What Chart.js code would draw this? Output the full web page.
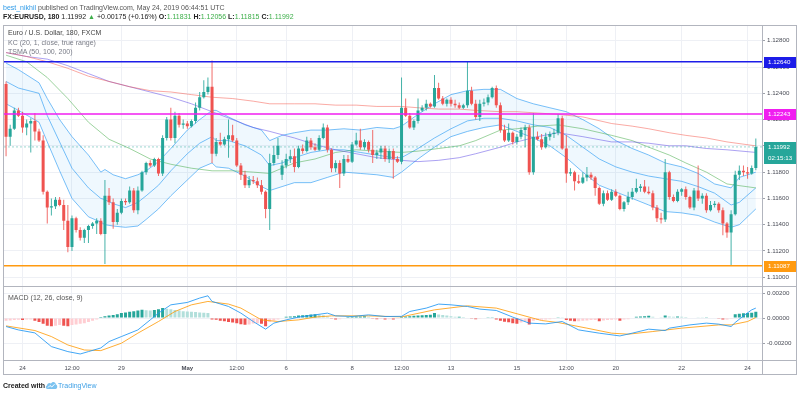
<!DOCTYPE html>
<html><head><meta charset="utf-8"><title>EURUSD 180</title>
<script src="https://cdn.jsdelivr.net/npm/chart.js@4.4.1/dist/chart.umd.min.js"></script>
<style>
html,body{margin:0;padding:0;background:#fff}
#wrap{position:relative;width:800px;height:396px;overflow:hidden;font-family:"Liberation Sans",Arial,Helvetica,sans-serif}
#c{position:absolute;left:0;top:0}
.t{position:absolute;white-space:nowrap;line-height:8px;font-size:7px}
.g{color:#3cae49}
</style></head><body><div id="wrap">
<canvas id="c" width="800" height="396"></canvas>
<div class="t" style="left:3px;top:4px;color:#555"><span style="color:#2f9be8">best_nikhil</span> published on TradingView.com, May 24, 2019 06:44:51 UTC</div>
<div class="t" style="left:3px;top:13px;color:#222"><b>FX:EURUSD, 180</b> 1.11992 <span class="g">▲</span> +0.00175 (+0.16%) <b>O:</b><span class="g">1.11831</span> <b>H:</b><span class="g">1.12056</span> <b>L:</b><span class="g">1.11815</span> <b>C:</b><span class="g">1.11992</span></div>
<div class="t" style="left:8px;top:29px;color:#444">Euro / U.S. Dollar, 180, FXCM</div>
<div class="t" style="left:8px;top:39px;color:#787b86">KC (20, 1, close, true range)</div>
<div class="t" style="left:8px;top:48px;color:#787b86">TSMA (50, 100, 200)</div>
<div class="t" style="left:8px;top:294px;color:#555">MACD (12, 26, close, 9)</div>
<div class="t" style="left:3px;top:382px;color:#222;font-weight:bold">Created with</div>
<svg style="position:absolute;left:45px;top:380px" width="13" height="10" viewBox="0 0 13 10"><path d="M2.5 9 C0.5 9 0.2 6.2 2 5.6 C2 3 4.8 2.2 6 3.6 C7 1 11 1.5 10.8 4.6 C12.8 5 12.8 9 10.6 9 Z" fill="#7cc3f0"/><path d="M3 7.5 L5 5.5 L6.8 7 L9.5 4.2" stroke="#fff" stroke-width="1" fill="none"/></svg>
<div class="t" style="left:58px;top:382px;color:#3ea0e6">TradingView</div>
</div>
<script>
// ---------- data ----------
const openP = [
1.1247,1.1207,1.1213,1.1227,1.1223,1.1214,1.1217,1.1219,1.1211,1.1204,
1.1165,1.1153,1.1154,1.1159,1.1155,1.1143,1.1123,1.1145,1.1136,1.1130,
1.1136,1.1139,1.1141,1.1143,1.1133,1.1162,1.1157,1.1142,1.1149,1.1158,
1.1157,1.1166,1.1151,1.1166,1.1180,1.1187,1.1185,1.1190,1.1179,1.1206,
1.1220,1.1206,1.1223,1.1216,1.1217,1.1215,1.1219,1.1229,1.1237,1.1241,
1.1245,1.1194,1.1203,1.1201,1.1205,1.1208,1.1204,1.1185,1.1178,1.1170,
1.1174,1.1173,1.1170,1.1165,1.1152,1.1187,1.1193,1.1178,1.1185,1.1190,
1.1192,1.1184,1.1198,1.1196,1.1204,1.1199,1.1197,1.1206,1.1214,1.1197,
1.1183,1.1187,1.1179,1.1190,1.1188,1.1201,1.1204,1.1199,1.1203,1.1197,
1.1193,1.1195,1.1198,1.1190,1.1196,1.1190,1.1188,1.1229,1.1223,1.1214,
1.1219,1.1227,1.1229,1.1232,1.1230,1.1244,1.1236,1.1232,1.1235,1.1232,
1.1231,1.1229,1.1231,1.1242,1.1232,1.1222,1.1232,1.1233,1.1237,1.1244,
1.1231,1.1212,1.1204,1.1210,1.1203,1.1207,1.1212,1.1214,1.1180,1.1207,
1.1205,1.1199,1.1207,1.1209,1.1210,1.1221,1.1198,1.1179,1.1180,1.1173,
1.1172,1.1176,1.1178,1.1176,1.1168,1.1156,1.1164,1.1159,1.1165,1.1162,
1.1152,1.1157,1.1161,1.1165,1.1168,1.1169,1.1165,1.1164,1.1153,1.1145,
1.1144,1.1180,1.1161,1.1158,1.1165,1.1167,1.1161,1.1153,1.1166,1.1160,
1.1162,1.1151,1.1155,1.1156,1.1151,1.1141,1.1134,1.1148,1.1178,1.1181,
1.1180,1.1179,1.11831];
const highP = [
1.1249,1.1216,1.1229,1.1229,1.1226,1.1220,1.1221,1.1225,1.1213,1.1208,
1.1166,1.1160,1.1161,1.1161,1.1159,1.1155,1.1147,1.1146,1.1138,1.1137,
1.1140,1.1142,1.1145,1.1145,1.1174,1.1168,1.1160,1.1152,1.1160,1.1160,
1.1169,1.1168,1.1169,1.1181,1.1188,1.1189,1.1191,1.1191,1.1208,1.1222,
1.1229,1.1226,1.1225,1.1220,1.1219,1.1220,1.1233,1.1241,1.1250,1.1252,
1.1265,1.1206,1.1210,1.1207,1.1220,1.1216,1.1206,1.1187,1.1181,1.1177,
1.1177,1.1176,1.1174,1.1166,1.1194,1.1200,1.1206,1.1189,1.1194,1.1197,
1.1198,1.1200,1.1201,1.1207,1.1206,1.1202,1.1208,1.1217,1.1216,1.1198,
1.1189,1.1189,1.1193,1.1193,1.1203,1.1210,1.1213,1.1205,1.1204,1.1212,
1.1197,1.1200,1.1200,1.1198,1.1198,1.1192,1.1252,1.1236,1.1225,1.1220,
1.1236,1.1231,1.1235,1.1233,1.1254,1.1248,1.1238,1.1236,1.1237,1.1235,
1.1233,1.1232,1.1264,1.1245,1.1235,1.1235,1.1236,1.1239,1.1245,1.1246,
1.1233,1.1216,1.1217,1.1211,1.1209,1.1214,1.1216,1.1216,1.1225,1.1211,
1.1209,1.1210,1.1211,1.1213,1.1224,1.1223,1.1208,1.1183,1.1181,1.1178,
1.1180,1.1184,1.1180,1.1177,1.1169,1.1166,1.1166,1.1167,1.1167,1.1163,
1.1158,1.1165,1.1168,1.1175,1.1171,1.1174,1.1169,1.1166,1.1155,1.1149,
1.1190,1.1181,1.1163,1.1167,1.1168,1.1169,1.1162,1.1168,1.1185,1.1164,
1.1164,1.1158,1.1158,1.1157,1.1153,1.1142,1.1151,1.1181,1.1185,1.1185,
1.1184,1.1185,1.12056];
const lowP = [
1.1192,1.1200,1.1212,1.1222,1.1210,1.1208,1.1195,1.1204,1.1203,1.1163,
1.1141,1.1147,1.1152,1.1154,1.1136,1.1119,1.1120,1.1134,1.1128,1.1126,
1.1126,1.1137,1.1133,1.1132,1.1110,1.1155,1.1137,1.1140,1.1148,1.1155,
1.1156,1.1149,1.1148,1.1165,1.1178,1.1184,1.1184,1.1177,1.1177,1.1204,
1.1204,1.1202,1.1214,1.1213,1.1213,1.1214,1.1217,1.1227,1.1236,1.1239,
1.1187,1.1192,1.1200,1.1200,1.1191,1.1203,1.1184,1.1174,1.1168,1.1168,
1.1171,1.1168,1.1163,1.1145,1.1136,1.1185,1.1190,1.1174,1.1183,1.1187,
1.1180,1.1183,1.1194,1.1195,1.1197,1.1196,1.1196,1.1205,1.1195,1.1180,
1.1180,1.1168,1.1177,1.1187,1.1187,1.1200,1.1197,1.1197,1.1195,1.1187,
1.1190,1.1190,1.1188,1.1187,1.1175,1.1187,1.1186,1.1222,1.1213,1.1212,
1.1217,1.1226,1.1227,1.1229,1.1229,1.1235,1.1231,1.1230,1.1230,1.1229,
1.1228,1.1228,1.1229,1.1231,1.1220,1.1219,1.1230,1.1231,1.1236,1.1229,
1.1210,1.1203,1.1203,1.1201,1.1201,1.1205,1.1199,1.1178,1.1178,1.1204,
1.1197,1.1198,1.1204,1.1206,1.1208,1.1197,1.1172,1.1177,1.1166,1.1171,
1.1171,1.1173,1.1174,1.1162,1.1155,1.1154,1.1158,1.1158,1.1161,1.1151,
1.1150,1.1155,1.1159,1.1164,1.1165,1.1164,1.1163,1.1151,1.1142,1.1141,
1.1142,1.1159,1.1157,1.1157,1.1162,1.1159,1.1152,1.1151,1.1158,1.1156,
1.1149,1.1150,1.1153,1.1149,1.1132,1.1130,1.11087,1.1147,1.1174,1.1177,
1.1175,1.1178,1.11815];
const closeP = [
1.1207,1.1213,1.1227,1.1223,1.1214,1.1217,1.1219,1.1211,1.1204,1.1165,
1.1153,1.1154,1.1159,1.1155,1.1143,1.1123,1.1145,1.1136,1.1130,1.1136,
1.1139,1.1141,1.1143,1.1133,1.1162,1.1157,1.1142,1.1149,1.1158,1.1157,
1.1166,1.1151,1.1166,1.1180,1.1187,1.1185,1.1190,1.1179,1.1206,1.1220,
1.1206,1.1223,1.1216,1.1217,1.1215,1.1219,1.1229,1.1237,1.1241,1.1245,
1.1194,1.1203,1.1201,1.1205,1.1208,1.1204,1.1185,1.1178,1.1170,1.1174,
1.1173,1.1170,1.1165,1.1152,1.1187,1.1193,1.1200,1.1185,1.1190,1.1192,
1.1184,1.1198,1.1196,1.1204,1.1199,1.1197,1.1206,1.1214,1.1197,1.1183,
1.1187,1.1179,1.1190,1.1188,1.1201,1.1204,1.1199,1.1203,1.1197,1.1193,
1.1195,1.1198,1.1190,1.1196,1.1190,1.1188,1.1229,1.1223,1.1214,1.1219,
1.1227,1.1229,1.1232,1.1230,1.1244,1.1236,1.1232,1.1235,1.1232,1.1231,
1.1229,1.1231,1.1242,1.1232,1.1222,1.1232,1.1233,1.1237,1.1244,1.1231,
1.1212,1.1204,1.1210,1.1203,1.1207,1.1212,1.1214,1.1180,1.1207,1.1205,
1.1199,1.1207,1.1209,1.1210,1.1221,1.1198,1.1179,1.1180,1.1173,1.1172,
1.1176,1.1178,1.1176,1.1168,1.1156,1.1164,1.1159,1.1165,1.1162,1.1152,
1.1157,1.1161,1.1165,1.1168,1.1169,1.1165,1.1164,1.1153,1.1145,1.1144,
1.1180,1.1161,1.1158,1.1165,1.1167,1.1161,1.1153,1.1166,1.1160,1.1162,
1.1151,1.1155,1.1156,1.1151,1.1141,1.1134,1.1148,1.1178,1.1181,1.1180,
1.1179,1.11831,1.11992];

// Keltner channel (at these bar indices)
const kcIdx = [0,3,8,10,13,16,20,23,24,26,29,32,34,37,40,44,47,50,51,54,58,62,64,67,70,74,78,82,86,90,94,96,100,104,108,112,116,120,124,128,132,136,140,144,148,152,156,160,164,168,172,176,178,182];
const kcUpper = [1.1263,1.1258,1.1248,1.1236,1.1220,1.1207,1.1193,1.1180,1.1182,1.1178,
1.1175,1.1178,1.1181,1.1188,1.1198,1.1212,1.1220,1.1227,1.1227,1.1222,
1.1216,1.1212,1.1204,1.1208,1.1210,1.1212,1.1212,1.1213,1.1212,1.1214,
1.1213,1.1215,1.1224,1.1232,1.1239,1.1242,1.1243,1.1243,1.1236,1.1232,
1.1229,1.1226,1.1220,1.1213,1.1204,1.1198,1.1193,1.1187,1.1184,1.1179,
1.1171,1.1168,1.1176,1.1180];
const kcMid = [1.1249,1.1244,1.1240,1.1223,1.1203,1.1183,1.1168,1.1160,1.1159,1.1156,
1.1153,1.1157,1.1162,1.1170,1.1181,1.1194,1.1202,1.1207,1.1204,1.1204,
1.1200,1.1193,1.1185,1.1187,1.1191,1.1195,1.1197,1.1197,1.1195,1.1193,
1.1191,1.1191,1.1198,1.1206,1.1213,1.1219,1.1221,1.1221,1.1219,1.1216,
1.1214,1.1208,1.1199,1.1190,1.1184,1.1180,1.1177,1.1175,1.1173,1.1169,
1.1164,1.1155,1.1157,1.1168];
const kcLower = [1.1232,1.1227,1.1218,1.1203,1.1181,1.1160,1.1146,1.1142,1.1140,1.1139,
1.1138,1.1139,1.1144,1.1152,1.1162,1.1174,1.1183,1.1187,1.1184,1.1183,
1.1177,1.1169,1.1166,1.1169,1.1172,1.1172,1.1176,1.1180,1.1179,1.1178,
1.1176,1.1180,1.1190,1.1199,1.1207,1.1211,1.1214,1.1216,1.1211,1.1206,
1.1200,1.1191,1.1180,1.1170,1.1165,1.1160,1.1155,1.1150,1.1149,1.1147,
1.1142,1.1138,1.1140,1.1152];

// Moving averages (read at these bar indices)
const smaIdx = [0,5,10,15,20,25,30,35,40,45,50,55,60,64,70,75,80,85,90,96,100,105,110,114,120,124,129,134,140,147,152,156,161,165,170,175,182];
const sma200 = [1.1271,1.1268,1.1264,1.1259,1.1253,1.1249,1.1245,1.1242,1.1241,1.1239,1.1237,1.1236,1.1234,
1.1232,1.1232,1.1232,1.1231,1.1231,1.1230,1.1230,1.1229,1.1228,1.1228,1.1227,1.1226,1.1226,1.1225,1.1224,1.1222,1.1217,
1.1215,1.1213,1.1210,1.1208,1.1206,1.1203,1.1200];
const sma100 = [1.1271,1.1268,1.1266,1.1261,1.1255,1.1249,1.1245,1.1241,1.1237,1.1232,1.1226,1.1220,1.1214,
1.1211,1.1206,1.1201,1.1197,1.1194,1.1191,1.1189,1.1188,1.1189,1.1191,1.1194,1.1199,1.1203,1.1207,1.1210,1.1207,1.1203,
1.1203,1.1202,1.1200,1.1200,1.1198,1.1197,1.1195];
const sma50 = [1.1269,1.1264,1.1252,1.1236,1.1218,1.1205,1.1198,1.1190,1.1186,1.1183,1.1181,1.1181,1.1180,
1.1179,1.1187,1.1190,1.1195,1.1197,1.1196,1.1195,1.1196,1.1198,1.1200,1.1204,1.1212,1.1213,1.1215,1.1216,1.1213,1.1208,
1.1204,1.1199,1.1193,1.1187,1.1180,1.1171,1.1168];

// MACD
const macdIdx = [0,3,7,11,15,18,20,23,25,28,32,35,37,40,44,47,49,50,54,57,60,63,65,68,71,75,78,80,84,88,92,96,98,102,105,108,112,115,119,123,127,131,135,139,144,149,152,156,160,161,166,170,173,176,177,179,181,182];
const macdVal = [-0.00067,-0.00094,-0.00118,-0.00227,-0.00267,-0.00286,-0.00267,-0.00238,-0.00187,-0.00147,
-0.00094,-0.00014,0.0004,0.00106,0.00125,0.0016,0.00178,0.00133,0.00093,0.0004,
-0.00027,-0.00088,-0.0004,-0.00014,0.00008,0.00026,0.0004,0.00018,0.00013,0.00026,
0.00013,0.00014,0.00053,0.0008,0.00112,0.00106,0.00093,0.00072,0.00061,0.00008,
-0.0004,-0.00046,-0.00027,-0.00094,-0.0012,-0.00142,-0.0012,-0.00088,-0.00099,-0.0008,
-0.00054,-0.0004,-0.00048,-0.00067,-0.00035,0.00018,0.00066,0.0008];
const sigIdx = [0,7,11,15,19,23,28,32,37,41,45,49,54,57,62,66,71,75,79,88,96,104,112,119,125,130,134,141,147,151,157,164,173,176,180,182];
const sigVal = [-0.00062,-0.00099,-0.00147,-0.00214,-0.00254,-0.00259,-0.002,-0.0012,-0.00027,0.00053,
0.00106,0.00133,0.00112,0.0008,-0.00014,-0.00027,-0.00014,0.00008,0.00018,0.00018,
0.0001,0.00066,0.00098,0.0008,0.00026,-0.00019,-0.00035,-0.0008,-0.0012,-0.00128,
-0.00107,-0.0008,-0.00054,-0.00054,-0.00027,0.00005];
const hist = [
-0.0002,-0.00018,-0.00015,-0.00012,-0.00015,-0.0001,-0.0001,-0.0002,-0.0003,-0.00045,
-0.0006,-0.00065,-0.0006,-0.00055,-0.0006,-0.00065,-0.00055,-0.0005,-0.00045,-0.0004,
-0.0003,-0.0002,-0.0001,0.00008,0.00015,0.0002,0.00025,0.0003,0.0004,0.00045,
0.0005,0.00055,0.0006,0.00067,0.00062,0.0006,0.00065,0.0007,0.0008,0.00075,
0.0007,0.00065,0.0006,0.00055,0.00053,0.0005,0.00048,0.00045,0.00042,0.0004,
-0.0001,-0.00013,-0.0002,-0.00025,-0.0003,-0.00035,-0.0004,-0.00048,-0.00053,-0.0005,
-0.00042,-0.0004,-0.00045,-0.00065,-0.0003,-0.00018,-0.0001,0.00005,0.0001,0.00012,
0.00015,0.0002,0.00022,0.00025,0.00028,0.0003,0.00027,0.00022,0.00012,-0.00005,
-0.0001,-0.00008,0.00005,0.00008,0.0001,0.00013,0.00013,0.00015,0.0001,-0.00005,
-0.00008,-0.00007,-0.0001,-0.00008,-0.0001,-0.00005,0.0001,0.00013,0.00015,0.00018,
0.0002,0.00022,0.00025,0.00027,0.0004,0.00028,0.00025,0.0002,0.00015,0.0001,
0.0001,0.00008,0.00005,-0.00005,-0.00008,-0.00005,-0.00002,0.00002,0.00003,-0.0001,
-0.0002,-0.00028,-0.00033,-0.0004,-0.00045,-0.00035,-0.00025,-0.0005,-0.0002,-0.00015,
-0.00013,-0.0001,-0.00008,-0.00005,0.00003,0.00002,-0.00015,-0.0002,-0.00025,-0.00025,
-0.0002,-0.00018,-0.00015,-0.00015,-0.00025,-0.00018,-0.00015,-0.00012,-0.0001,-0.0002,
-0.0001,-0.00008,0.00005,0.0001,0.00013,0.00015,0.00018,0.0001,0.00005,0.00003,
0.0002,0.00013,0.0001,0.00013,0.0001,0.00008,0.00005,0.00005,0.00003,0.00002,
0.00002,0,-0.00002,-0.00005,-0.0001,-0.0001,-0.00005,0.0003,0.00035,0.00038,
0.0004,0.00042,0.0005];

// horizontal levels and ticks
const levelVals = [1.12640, 1.12243, 1.11087];
const levelColors = ['#1c1ce8', '#f01ef0', '#ff9a10'];
const lastPrice = 1.11992;
const countdown = '02:15:13';
const priceTicks = [1.110,1.112,1.114,1.116,1.118,1.120,1.122,1.124,1.126,1.128];
const macdTicks = [-0.002, 0, 0.002];
const timeTickIdx = [4,16,28,44,56,68,84,96,108,124,136,148,164,180];
const timeTickLabels = ['24','12:00','29','May','12:00','6','8','12:00','13','15','12:00','20','22','24'];

// ---------- chart ----------
Chart.defaults.font.family = '"Liberation Sans", Arial, sans-serif';
const UP = '#26a69a', DOWN = '#ef5350';
const idxs = closeP.map((_, i) => i);
const bodyCol = idxs.map(i => closeP[i] >= openP[i] ? UP : DOWN);
const wickCol = idxs.map(i => closeP[i] >= openP[i] ? 'rgba(38,166,154,0.85)' : 'rgba(239,83,80,0.85)');
const histCol = hist.map((h, i) => {
  const p = i ? hist[i - 1] : h;
  return h >= 0 ? (h >= p ? '#26a69a' : '#b2dfdb') : (h < p ? '#ef5350' : '#ffcdd2');
});
const X_MIN = -0.5, X_MAX = 183.5;
const xy = (ix, vals) => ix.map((x, k) => ({x, y: vals[k]}));
const hline = v => [{x: X_MIN, y: v}, {x: X_MAX, y: v}];
const lineDs = (data, color, extra) => Object.assign({type: 'line', data, borderColor: color, borderWidth: 1,
  pointRadius: 0, fill: false, tension: 0, yAxisID: 'y'}, extra || {});

const KC = 'rgba(33,150,243,0.6)';
const datasets = [
  lineDs(xy(kcIdx, kcUpper), KC, {fill: '+2', backgroundColor: 'rgba(33,150,243,0.07)', order: 30}),
  lineDs(xy(kcIdx, kcMid), KC, {order: 30}),
  lineDs(xy(kcIdx, kcLower), KC, {order: 30}),
  lineDs(xy(smaIdx, sma200), 'rgba(244,67,54,0.45)', {order: 25}),
  lineDs(xy(smaIdx, sma100), 'rgba(90,70,230,0.5)', {order: 25}),
  lineDs(xy(smaIdx, sma50), 'rgba(76,175,80,0.55)', {order: 25}),
  lineDs(hline(lastPrice), 'rgba(38,166,154,0.45)', {borderDash: [2, 2], order: 22}),
  {type: 'bar', data: idxs.map(i => ({x: i, y: [lowP[i], highP[i]]})), backgroundColor: wickCol,
    barThickness: 1, grouped: false, inflateAmount: 0, yAxisID: 'y', order: 20},
  {type: 'bar', data: idxs.map(i => ({x: i, y: [openP[i], closeP[i]]})), backgroundColor: bodyCol,
    barThickness: 3, minBarLength: 1, grouped: false, inflateAmount: 0, yAxisID: 'y', order: 19},
  ...levelVals.map((v, k) => lineDs(hline(v), levelColors[k], {borderWidth: 1.6, order: 5})),
  {type: 'bar', data: idxs.map(i => ({x: i, y: hist[i]})), backgroundColor: histCol,
    barThickness: 3, grouped: false, inflateAmount: 0, yAxisID: 'y2', order: 20},
  lineDs(xy(sigIdx, sigVal), 'rgba(255,152,0,0.8)', {yAxisID: 'y2', order: 11}),
  lineDs(xy(macdIdx, macdVal), 'rgba(33,150,243,0.85)', {yAxisID: 'y2', order: 10})
];

const AX = '#9ea1aa', GRID = '#eef0f5', TXT = '#4a4d57';
const overlay = {
  id: 'overlay',
  afterDraw(chart) {
    const {ctx, chartArea: ca, scales: {x, y, y2}} = chart;
    const axR = y.right, bot = x.bottom;
    ctx.save();
    ctx.strokeStyle = '#b2b5be';
    ctx.lineWidth = 1;
    ctx.strokeRect(ca.left - 0.5, ca.top - 0.5, axR - ca.left, bot - ca.top);
    ctx.beginPath();
    ctx.moveTo(ca.left, Math.round(y2.top) - 0.5); ctx.lineTo(axR, Math.round(y2.top) - 0.5);
    ctx.moveTo(ca.left, Math.round(ca.bottom) + 0.5); ctx.lineTo(axR, Math.round(ca.bottom) + 0.5);
    ctx.moveTo(ca.right + 0.5, ca.top); ctx.lineTo(ca.right + 0.5, bot);
    ctx.stroke();
    const tag = (py, text, bg) => {
      ctx.fillStyle = bg;
      ctx.fillRect(ca.right + 2, Math.round(py) - 5, axR - ca.right - 3, 11);
      ctx.fillStyle = '#fff';
      ctx.font = '6.2px "Liberation Sans", Arial, sans-serif';
      ctx.textBaseline = 'middle';
      ctx.textAlign = 'left';
      ctx.fillText(text, ca.right + 6, Math.round(py) + 0.5);
    };
    levelVals.forEach((v, k) => tag(y.getPixelForValue(v), v.toFixed(5), levelColors[k]));
    const py = y.getPixelForValue(lastPrice);
    tag(py, lastPrice.toFixed(5), '#26a69a');
    tag(py + 11, countdown, '#26a69a');
    ctx.restore();
  }
};

new Chart(document.getElementById('c'), {
  type: 'line',
  data: {datasets},
  options: {
    responsive: false, animation: false, devicePixelRatio: 1,
    layout: {padding: {left: 4, top: 26, right: 3, bottom: 21}},
    plugins: {legend: {display: false}, tooltip: {enabled: false}},
    scales: {
      x: {type: 'linear', min: X_MIN, max: X_MAX, offset: false,
        afterBuildTicks: s => { s.ticks = timeTickIdx.map(v => ({value: v})); },
        afterFit: s => { s.height = 15; },
        grid: {color: GRID, drawTicks: false, offset: false},
        border: {display: false},
        ticks: {autoSkip: false, maxRotation: 0, padding: 5, color: TXT,
          font: c => ({size: 6, weight: (c.tick && c.tick.value === 44) ? 'bold' : 'normal'}),
          callback: v => { const k = timeTickIdx.indexOf(v); return k < 0 ? '' : timeTickLabels[k]; }}
      },
      y: {type: 'linear', position: 'right', stack: 'pane', stackWeight: 260, min: 1.109275, max: 1.129122,
        afterBuildTicks: s => { s.ticks = priceTicks.map(v => ({value: v})); },
        afterFit: s => { s.width = 35; },
        grid: {color: GRID, tickColor: AX, tickLength: 3},
        border: {display: true, color: AX},
        ticks: {callback: v => v.toFixed(5), font: {size: 6.2}, color: TXT, padding: 2}
      },
      y2: {type: 'linear', position: 'right', stack: 'pane', stackWeight: 73, min: -0.00334, max: 0.0025,
        afterBuildTicks: s => { s.ticks = macdTicks.map(v => ({value: v})); },
        afterFit: s => { s.width = 35; },
        grid: {color: GRID, tickColor: AX, tickLength: 3},
        border: {display: true, color: AX},
        ticks: {callback: v => v.toFixed(5), font: {size: 6.2}, color: TXT, padding: 2}
      }
    }
  },
  plugins: [overlay]
});
</script>
</body></html>
